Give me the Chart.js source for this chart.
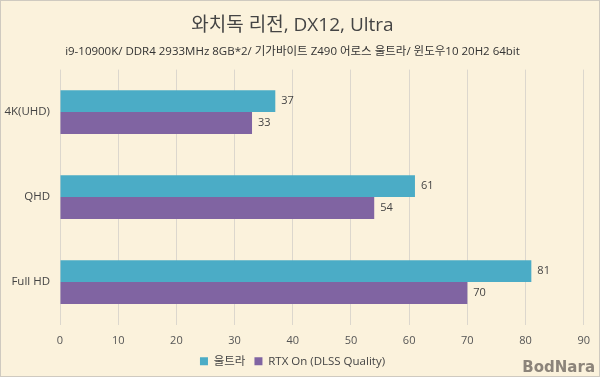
<!DOCTYPE html>
<html><head><meta charset="utf-8">
<script src="https://cdn.jsdelivr.net/npm/chart.js@4/dist/chart.umd.min.js"></script>
<style>html,body{margin:0;padding:0;background:#fbf2dc}#wrap{width:600px;height:377px;position:relative}</style>
</head><body><div id="wrap"><canvas id="c" width="600" height="377"></canvas></div>
<script>
const categories = ["4K(UHD)", "QHD", "Full HD"];
const seriesNames = ["울트라", "RTX On (DLSS Quality)"];
const ultraValues = [37, 61, 81];
const rtxValues = [33, 54, 70];
const xTicks = [0, 10, 20, 30, 40, 50, 60, 70, 80, 90];
const titleText = "와치독 리전, DX12, Ultra";
const subtitleText = "i9-10900K/ DDR4 2933MHz 8GB*2/ 기가바이트 Z490 어로스 울트라/ 윈도우10 20H2 64bit";
const FONT = "'Open Sans', 'Noto Sans CJK KR', sans-serif";

const bgPlugin = {
  id: 'bg',
  beforeDraw(chart) {
    const ctx = chart.ctx;
    ctx.save();
    ctx.fillStyle = '#fbf2dc';
    ctx.fillRect(0, 0, chart.width, chart.height);
    ctx.strokeStyle = '#cfcac0';
    ctx.lineWidth = 1;
    ctx.strokeRect(0.5, 0.5, chart.width - 1, chart.height - 1);
    ctx.restore();
  },
  afterDraw(chart) {
    const ctx = chart.ctx;
    ctx.save();
    ctx.font = "bold 15px 'DejaVu Sans', sans-serif";
    ctx.fillStyle = '#8c847a';
    ctx.textAlign = 'right';
    ctx.textBaseline = 'alphabetic';
    ctx.fillText('BodNara', 595, 372);
    ctx.restore();
  }
};

const labelPlugin = {
  id: 'vlabels',
  afterDatasetsDraw(chart) {
    const ctx = chart.ctx;
    ctx.save();
    ctx.font = "11px " + FONT;
    ctx.fillStyle = '#444';
    ctx.textAlign = 'left';
    ctx.textBaseline = 'middle';
    chart.data.datasets.forEach((ds, i) => {
      chart.getDatasetMeta(i).data.forEach((bar, j) => {
        ctx.fillText(String(ds.data[j]), bar.x + 6, bar.y);
      });
    });
    ctx.restore();
  }
};

new Chart(document.getElementById('c'), {
  type: 'bar',
  data: {
    labels: categories,
    datasets: [
      { label: seriesNames[0], data: ultraValues, backgroundColor: '#4bacc6' },
      { label: seriesNames[1], data: rtxValues, backgroundColor: '#8064a2' }
    ]
  },
  options: {
    indexAxis: 'y',
    responsive: false,
    animation: false,
    devicePixelRatio: 1,
    layout: { padding: { left: 0, right: 15, top: 0, bottom: 0 } },
    datasets: { bar: { barPercentage: 1.0, categoryPercentage: 0.515 } },
    scales: {
      x: {
        min: 0, max: 90,
        afterBuildTicks(s) { s.ticks = xTicks.map(v => ({ value: v })); },
        afterFit(s) { s.height = 22; },
        grid: { color: '#dcd7cd', drawTicks: false },
        border: { display: false },
        ticks: { color: '#555', font: { size: 11, family: FONT }, padding: 10 }
      },
      y: {
        afterFit(s) { s.width = 60; },
        grid: { display: false, drawTicks: false },
        border: { display: false },
        ticks: { color: '#444', font: { size: 11.5, family: FONT }, padding: 10 }
      }
    },
    plugins: {
      title: { display: true, text: titleText, color: '#444', font: { size: 19, weight: 'normal', family: FONT }, padding: { top: 14, bottom: 8 } },
      subtitle: { display: true, text: subtitleText, color: '#333', font: { size: 11.5, family: FONT }, padding: { bottom: 11 } },
      legend: {
        position: 'bottom',
        labels: { color: '#444', font: { size: 11.5, family: FONT }, boxWidth: 8, boxHeight: 8, padding: 9 }
      },
      tooltip: { enabled: false }
    }
  },
  plugins: [bgPlugin, labelPlugin]
});
</script></body></html>
